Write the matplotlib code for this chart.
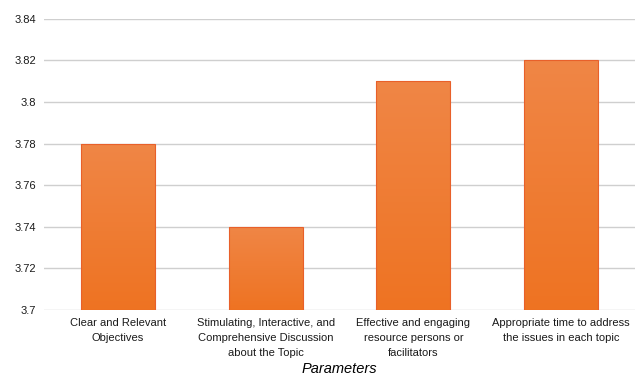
import numpy as np
import matplotlib.pyplot as plt
from matplotlib.colors import LinearSegmentedColormap

plt.rcParams["font.family"] = ["Liberation Sans", "DejaVu Sans"]

categories = [
    "Clear and Relevant\nObjectives",
    "Stimulating, Interactive, and\nComprehensive Discussion\nabout the Topic",
    "Effective and engaging\nresource persons or\nfacilitators",
    "Appropriate time to address\nthe issues in each topic",
]
scores = [3.78, 3.74, 3.81, 3.82]
yticks = [3.70, 3.72, 3.74, 3.76, 3.78, 3.80, 3.82, 3.84]
ytick_labels = ["3.7", "3.72", "3.74", "3.76", "3.78", "3.8", "3.82", "3.84"]

fig = plt.figure(figsize=(6.4, 3.77), dpi=100)
ax = fig.add_axes([0.069, 0.178, 0.923, 0.772])

x = np.arange(len(categories))
bars = ax.bar(x, [s - 3.7 for s in scores], bottom=3.7, width=0.5,
              color="none", edgecolor="#E8602A", linewidth=0.8, zorder=4)

# vertical orange gradient inside each bar
shade = LinearSegmentedColormap.from_list("shade", ["#EE7322", "#F08646"])
grad = np.linspace(0, 1, 256).reshape(-1, 1)
for b in bars:
    x0, y0 = b.get_x(), b.get_y()
    im = ax.imshow(grad, cmap=shade, origin="lower", aspect="auto",
                   extent=[x0, x0 + b.get_width(), y0, y0 + b.get_height()],
                   zorder=3)
    im.set_clip_path(b)

ax.set_ylim(3.70, 3.84)
ax.set_xlim(-0.5, len(categories) - 0.5)
ax.set_yticks(yticks)
ax.set_yticklabels(ytick_labels, fontsize=8, color="#1a1a1a")
ax.set_xticks(x)
ax.set_xticklabels(categories, fontsize=8, color="#1a1a1a", linespacing=1.6)
ax.tick_params(length=0, pad=6)
ax.grid(axis="y", color="#CFCFCF", linewidth=1.0, zorder=0)
for s in ax.spines.values():
    s.set_visible(False)

ax.set_xlabel("Parameters", fontsize=10.5, style="italic", labelpad=3)

fig.savefig("out.png", dpi=100)
